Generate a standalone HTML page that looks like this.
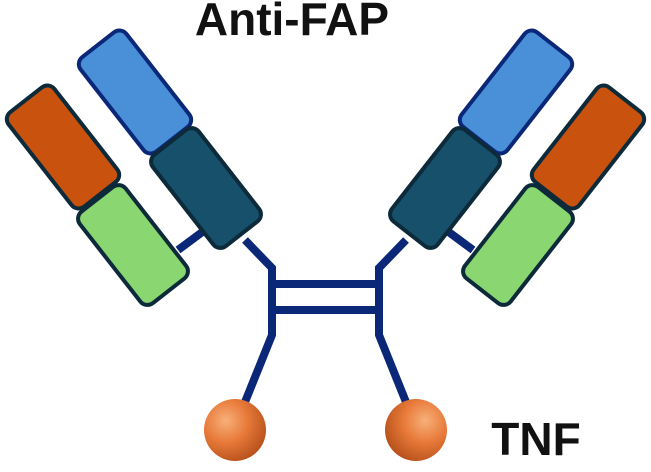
<!DOCTYPE html>
<html><head><style>body{margin:0;background:#fff}svg{display:block}</style></head>
<body>
<svg width="651" height="472" viewBox="0 0 651 472" xmlns="http://www.w3.org/2000/svg">
<defs>
<radialGradient id="ball" cx="0.35" cy="0.35" r="0.7">
<stop offset="0" stop-color="#f7b07a"/><stop offset="0.5" stop-color="#e87a3a"/><stop offset="1" stop-color="#b8521c"/>
</radialGradient>
<g id="arm">
<g stroke="#0b2878" stroke-width="8" fill="none" stroke-linejoin="miter">
<line x1="178" y1="250" x2="205" y2="230"/>
<polyline points="245,240 272,268 272,335 245,402"/>
</g>
<g stroke="#0d2a3a" stroke-width="4">
<rect x="106" y="32" width="58" height="120" rx="9" fill="#4a90d9" stroke="#0b2878" transform="rotate(-38 135 92)"/>
<rect x="177" y="130" width="58" height="116" rx="9" fill="#17506a" transform="rotate(-38 206 188)"/>
<rect x="34" y="87" width="58" height="120" rx="9" fill="#c8520e" transform="rotate(-38 63 147)"/>
<rect x="104" y="187" width="58" height="116" rx="9" fill="#8ad670" transform="rotate(-38 133 245)"/>
</g>
<circle cx="235" cy="430" r="31" fill="url(#ball)"/>
</g>
</defs>
<use href="#arm"/>
<use href="#arm" transform="translate(651 0) scale(-1 1)"/>
<g stroke="#0b2878" stroke-width="8">
<line x1="272" y1="284" x2="379" y2="284"/>
<line x1="272" y1="310" x2="379" y2="310"/>
</g>
<text x="292" y="35" font-family="Liberation Sans, sans-serif" font-weight="bold" font-size="46" text-anchor="middle" fill="#111">Anti-FAP</text>
<text x="536" y="455" font-family="Liberation Sans, sans-serif" font-weight="bold" font-size="46" text-anchor="middle" fill="#111">TNF</text>
</svg>
</body></html>
